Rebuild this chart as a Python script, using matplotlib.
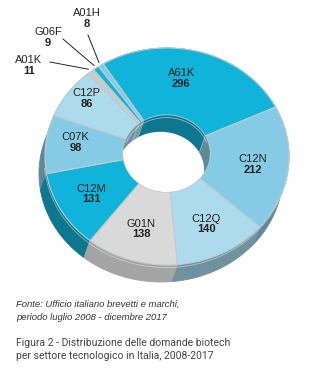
import numpy as np
import matplotlib
matplotlib.use("Agg")
import matplotlib.pyplot as plt
from matplotlib.patches import Polygon, Ellipse

# domande biotech per settore tecnologico (IPC), luglio 2008 - dicembre 2017
settori = ['A61K', 'C12N', 'C12Q', 'G01N', 'C12M', 'C07K', 'C12P', 'A01K', 'G06F', 'A01H']
domande = [296, 212, 140, 138, 131, 98, 86, 11, 9, 8]

col_top = ['#10b3d9', '#85cbe5', '#acdbed', '#d9d9d9', '#10b3d9', '#85cbe5', '#acdbed',
           '#c9cbcc', '#10b3d9', '#85cbe5']
col_side = ['#0d7790', '#5f8999', '#6f929f', '#a4a4a4', '#0d7790', '#5f8999', '#6f929f',
            '#9a9c9d', '#0d7790', '#5f8999']

# geometria in pixel
cx, cy, ra, rb = 167.0, 156.5, 122.0, 108.5      # bordo esterno
hx, hy, ha, hb = 166.5, 153.5, 43.5, 38.5       # foro
ox, oy = -6.0, 17.0                              # spessore (faccia inferiore)
start = 121.5


def arc(x0, y0, a, b, t1, t2, n=60):
    t = np.radians(np.linspace(t1, t2, n))
    return np.column_stack([x0 + a * np.cos(t), y0 - b * np.sin(t)])


fig = plt.figure(figsize=(3.29, 3.77), dpi=100)
ax = fig.add_axes([0, 0, 1, 1])
ax.set_xlim(0, 329)
ax.set_ylim(377, 0)
ax.axis('off')

tot = sum(domande)
ang = start - np.concatenate([[0], np.cumsum(domande)]) / tot * 360
spicchi = [(ang[i], ang[i + 1]) for i in range(len(domande))]

# fianco esterno, dal fondo verso l'osservatore
ordine = sorted(range(len(domande)), key=lambda i: -np.sin(np.radians(sum(spicchi[i]) / 2)))
for i in ordine:
    t1, t2 = spicchi[i]
    sup = arc(cx, cy, ra, rb, t1, t2)
    inf = arc(cx + ox, cy + oy, ra, rb, t2, t1)
    ax.add_patch(Polygon(np.vstack([sup, inf]), closed=True, fc=col_side[i],
                         ec=col_side[i], lw=0.6, zorder=1))
# riflesso sul bordo superiore del fianco
ax.plot(*arc(cx + ox * 0.15, cy + oy * 0.15, ra, rb, 185, 345).T,
        color='white', lw=0.6, alpha=0.45, zorder=1.5)

# faccia superiore
for i, (t1, t2) in enumerate(spicchi):
    est = arc(cx, cy, ra, rb, t1, t2)
    fo = arc(hx, hy, ha, hb, t2, t1)
    ax.add_patch(Polygon(np.vstack([est, fo]), closed=True, fc=col_top[i],
                         ec='#bfcbd0', lw=0.8, zorder=2))

# parete interna del foro
foro = Ellipse((hx, hy), 2 * ha, 2 * hb, fc='none', ec='none')
ax.add_patch(foro)
for i, (t1, t2) in enumerate(spicchi):
    sup = arc(hx, hy, ha, hb, t1, t2)
    inf = arc(hx + ox, hy + oy, ha, hb, t2, t1)
    p = Polygon(np.vstack([sup, inf]), closed=True, fc=col_side[i],
                ec='#8fa9b3', lw=0.5, zorder=3)
    ax.add_patch(p)
    p.set_clip_path(foro)
fondo = Ellipse((hx + ox, hy + oy), 2 * ha, 2 * hb, fc='white', ec='none', zorder=4)
ax.add_patch(fondo)
fondo.set_clip_path(foro)
riflesso, = ax.plot(*arc(hx, hy + 1.5, ha - 1, hb - 1, 20, 160).T, color='white',
                    lw=0.6, alpha=0.5, zorder=4.5)
riflesso.set_clip_path(foro)

# etichette dentro gli spicchi
spost = {'A61K': (-9, -3), 'C07K': (-5, -4), 'C12P': (-10, -12)}
fnt = 'Liberation Sans'
for i, (t1, t2) in enumerate(spicchi[:7]):
    m = np.radians((t1 + t2) / 2)
    pi = np.array([hx + ha * np.cos(m), hy - hb * np.sin(m)])
    pe = np.array([cx + ra * np.cos(m), cy - rb * np.sin(m)])
    x, y = pi + 0.55 * (pe - pi)
    dx, dy = spost.get(settori[i], (0, 0))
    ax.text(x + dx, y + dy - 5, settori[i], ha='center', va='center', fontsize=8,
            family=fnt, color='#222222', zorder=6)
    ax.text(x + dx, y + dy + 5.5, str(domande[i]), ha='center', va='center', fontsize=8,
            family=fnt, fontweight='bold', color='#222222', zorder=6)

# settori minori con linea di richiamo
richiami = {'A01K': ((29, 60), (50, 62)), 'G06F': ((48, 32), (63, 39)),
            'A01H': ((87, 13), (88, 35))}
for i in range(7, len(domande)):
    t1, t2 = spicchi[i]
    m = np.radians((t1 + t2) / 2)
    pe = (cx + 1.03 * ra * np.cos(m), cy - 1.03 * rb * np.sin(m))
    (tx, ty), (lx, ly) = richiami[settori[i]]
    ax.plot([lx, pe[0]], [ly, pe[1]], color='#222222', lw=0.7, zorder=6)
    ax.text(tx, ty, settori[i], ha='center', va='center', fontsize=8,
            family=fnt, color='#222222', zorder=6)
    ax.text(tx, ty + 11, str(domande[i]), ha='center', va='center', fontsize=8,
            family=fnt, fontweight='bold', color='#222222', zorder=6)

# fonte e didascalia
ax.text(16, 304, 'Fonte: Ufficio italiano brevetti e marchi,', fontsize=6.8, style='italic',
        family=fnt, color='#333333', va='center')
ax.text(16, 317, 'periodo luglio 2008 - dicembre 2017', fontsize=6.8, style='italic',
        family=fnt, color='#333333', va='center')
ax.text(16, 343, 'Figura 2 - Distribuzione delle domande biotech', fontsize=7.5,
        family='Roboto', color='#444444', va='center')
ax.text(16, 356, 'per settore tecnologico in Italia, 2008-2017', fontsize=7.5,
        family='Roboto', color='#444444', va='center')

fig.savefig('out.png', dpi=100)
